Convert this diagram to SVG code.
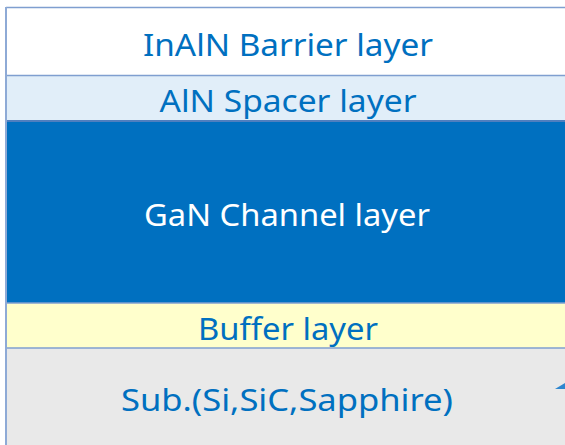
<svg xmlns="http://www.w3.org/2000/svg" width="565" height="445" viewBox="0 0 565 445">
<style>
.lbl{font-family:"Noto Sans","DejaVu Sans",sans-serif;font-size:31px;text-anchor:middle;fill:#0070c0}
.w{fill:#ffffff}
.edge{stroke:#7f9fd0;stroke-width:1.5;fill:none}
</style>
<rect x="0" y="0" width="565" height="445" fill="#ffffff"/>
<g id="layer-inaln">
<rect x="6" y="7" width="570" height="68" fill="#ffffff"/>
<text class="lbl" x="288" y="56" textLength="290" lengthAdjust="spacingAndGlyphs">InAlN Barrier layer</text>
</g>
<g id="layer-aln">
<rect x="6" y="75" width="570" height="46" fill="#e1eef9"/>
<text class="lbl" x="288" y="112" textLength="257" lengthAdjust="spacingAndGlyphs">AlN Spacer layer</text>
</g>
<g id="layer-gan">
<rect x="6" y="121" width="570" height="182" fill="#0070c0"/>
<text class="lbl w" x="287" y="226" textLength="286" lengthAdjust="spacingAndGlyphs">GaN Channel layer</text>
</g>
<g id="layer-buffer">
<rect x="6" y="303" width="570" height="45" fill="#ffffcc"/>
<text class="lbl" x="288" y="340" textLength="180" lengthAdjust="spacingAndGlyphs">Buffer layer</text>
</g>
<g id="layer-sub">
<rect x="6" y="348" width="570" height="100" fill="#e9e9e9"/>
<text class="lbl" x="287" y="411" textLength="332" lengthAdjust="spacingAndGlyphs">Sub.(Si,SiC,Sapphire)</text>
</g>
<g id="connectors">
<line class="edge" x1="6" y1="7.5" x2="565" y2="7.5"/>
<line class="edge" x1="6" y1="75.5" x2="565" y2="75.5"/>
<line x1="6" y1="121" x2="565" y2="121" stroke="#4f7fbf" stroke-width="2"/>
<line class="edge" x1="6" y1="303" x2="565" y2="303"/>
<line class="edge" x1="6" y1="348" x2="565" y2="348"/>
<line x1="6" y1="7" x2="6" y2="445" stroke="#8eaad6" stroke-width="2"/>
<polygon points="555,389 565,383 565,389" fill="#2e86cf"/>
</g>
</svg>
